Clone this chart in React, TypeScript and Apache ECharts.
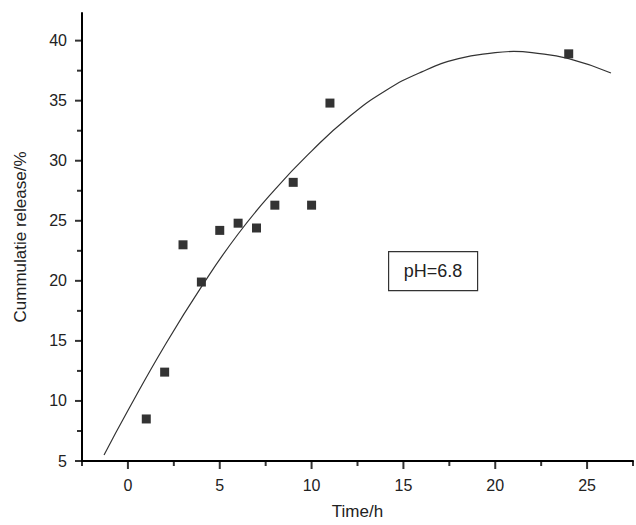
import React, { useEffect, useRef } from "react";
import * as echarts from "echarts";

const timeH = [1, 2, 3, 4, 5, 6, 7, 8, 9, 10, 11, 24];
const release = [8.5, 12.4, 23.0, 19.9, 24.2, 24.8, 24.4, 26.3, 28.2, 26.3, 34.8, 38.9];

// fitted curve
const curveX = [-1.3, 0, 2, 4, 6, 8, 10, 12, 14, 16, 18, 20, 21, 22, 24, 26.3];
const curveY = [5.5, 9.2, 14.6, 19.5, 23.9, 27.6, 30.8, 33.6, 35.8, 37.4, 38.5, 39.0, 39.1, 39.0, 38.5, 37.3];

const xMajor = [0, 5, 10, 15, 20, 25];
const xMinor = [-2.5, 2.5, 7.5, 12.5, 17.5, 22.5, 27.5];
const yMajor = [5, 10, 15, 20, 25, 30, 35, 40];
const yMinor = [7.5, 12.5, 17.5, 22.5, 27.5, 32.5, 37.5];

const X_MIN = -2.5;
const X_MAX = 27.5;
const Y_MIN = 5;
const Y_MAX = 42.3;

const FONT = "'Liberation Sans', Arial, sans-serif";

export default function App() {
  const ref = useRef<HTMLDivElement>(null);
  useEffect(() => {
    if (!ref.current) return;
    const chart = echarts.init(ref.current, null, { renderer: "svg" });
    const axisLine = { show: true, onZero: false, lineStyle: { color: "#000", width: 2 } };

    const tickSeries = (data: number[][], size: number[], offset: number[]) => ({
      type: "scatter",
      silent: true,
      clip: false,
      symbol: "rect",
      symbolSize: size,
      symbolOffset: offset,
      itemStyle: { color: "#000" },
      z: 5,
      data,
    });

    chart.setOption({
      animation: false,
      textStyle: { fontFamily: FONT },
      grid: { left: 82, right: 1, top: 13, bottom: 64 },
      xAxis: {
        type: "value",
        min: X_MIN,
        max: X_MAX,
        interval: 2.5,
        position: "bottom",
        name: "Time/h",
        nameLocation: "middle",
        nameGap: 42,
        nameTextStyle: { fontSize: 17, color: "#222", fontFamily: FONT },
        axisLine,
        axisTick: { show: false },
        axisLabel: {
          fontSize: 16,
          color: "#222",
          margin: 16,
          fontFamily: FONT,
          formatter: (v: number) => (Math.abs(v % 5) < 1e-9 ? String(v) : ""),
        },
        splitLine: { show: false },
      },
      yAxis: {
        type: "value",
        min: Y_MIN,
        max: Y_MAX,
        interval: 5,
        position: "left",
        name: "Cummulatie release/%",
        nameLocation: "middle",
        nameGap: 53,
        nameTextStyle: { fontSize: 17, color: "#222", fontFamily: FONT },
        axisLine,
        axisTick: { show: false },
        axisLabel: { fontSize: 16, color: "#222", margin: 15, fontFamily: FONT, showMaxLabel: false },
        splitLine: { show: false },
      },
      series: [
        tickSeries(xMajor.map((v) => [v, Y_MIN]), [2, 8], [0, 4]),
        tickSeries(xMinor.map((v) => [v, Y_MIN]), [2, 5], [0, 2.5]),
        tickSeries(yMajor.map((v) => [X_MIN, v]), [7, 2], [-3.5, 0]),
        tickSeries(yMinor.map((v) => [X_MIN, v]), [5, 2], [-2.5, 0]),
        {
          type: "line",
          data: curveX.map((x, i) => [x, curveY[i]]),
          smooth: true,
          showSymbol: false,
          lineStyle: { color: "#333", width: 1.2 },
          silent: true,
        },
        {
          type: "scatter",
          data: timeH.map((x, i) => [x, release[i]]),
          symbol: "rect",
          symbolSize: 9,
          itemStyle: { color: "#000" },
        },
      ],
      graphic: [
        {
          type: "group",
          left: 388,
          top: 251,
          children: [
            {
              type: "rect",
              shape: { x: 0, y: 0, width: 89, height: 39 },
              style: { fill: "#fff", stroke: "#333", lineWidth: 1.2 },
            },
            {
              type: "text",
              x: 44.5,
              y: 19.5,
              style: {
                text: "pH=6.8",
                fontSize: 18,
                fontFamily: FONT,
                fill: "#222",
                align: "center",
                verticalAlign: "middle",
              },
            },
          ],
        },
      ],
    });
    return () => chart.dispose();
  }, []);
  return (
    <div
      ref={ref}
      style={{ position: "fixed", left: 0, top: 0, width: 636, height: 525, background: "#fff" }}
    />
  );
}
